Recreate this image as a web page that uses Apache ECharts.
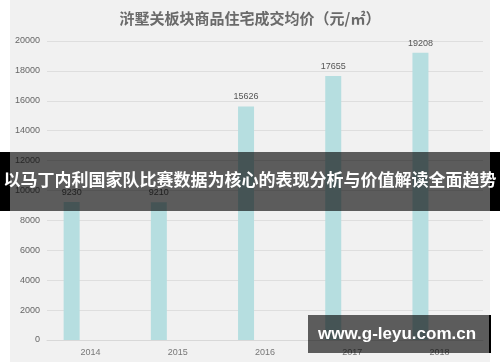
<!DOCTYPE html>
<html><head><meta charset="utf-8">
<script src="https://cdn.jsdelivr.net/npm/echarts@6/dist/echarts.min.js"></script>
<style>
html,body{margin:0;padding:0;background:#fff;}
#c{width:500px;height:362px;background:linear-gradient(to right,#fff 0,#fff 10px,#f1f1f1 10px,#f1f1f1 490px,#fff 490px);}
</style></head><body>
<div id="c"></div>
<script>
const titleText = '浒墅关板块商品住宅成交均价（元/㎡）';
const categories = ['2014', '2015', '2016', '2017', '2018'];
const avgPrice = [9230, 9210, 15626, 17655, 19208];
const emptySeries = ['-', '-', '-', '-', '-'];
const yMin = 0, yMax = 20000, yStep = 2000;
const bannerText = '以马丁内利国家队比赛数据为核心的表现分析与价值解读全面趋势';
const watermarkText = 'www.g-leyu.com.cn';

const chart = echarts.init(document.getElementById('c'), null, {renderer: 'canvas'});
chart.setOption({
  backgroundColor: 'transparent',
  animation: false,
  title: {
    text: titleText, left: 'center', top: 6,
    textStyle: {fontFamily: 'Noto Sans CJK SC', fontSize: 15, fontWeight: 'bold', color: '#6a6a6a'}
  },
  grid: {left: 47, right: 17, top: 41, bottom: 22, containLabel: false},
  xAxis: {
    type: 'category', data: categories,
    axisLine: {show: true, lineStyle: {color: '#d8d8d8'}},
    axisTick: {show: false},
    axisLabel: {color: '#777', fontSize: 9, fontFamily: 'Arial, Liberation Sans', margin: 8}
  },
  yAxis: {
    type: 'value', min: yMin, max: yMax, interval: yStep,
    axisLine: {show: false}, axisTick: {show: false},
    axisLabel: {color: '#666', fontSize: 9, fontFamily: 'Arial, Liberation Sans', margin: 7,
                formatter: v => String(v)},
    splitLine: {lineStyle: {color: '#dedede'}}
  },
  series: [
    {type: 'bar', data: avgPrice, barWidth: 16, barGap: '137%',
     itemStyle: {color: '#b6dee0'},
     label: {show: true, position: 'top', distance: 5, color: '#555', fontSize: 9, fontFamily: 'Arial, Liberation Sans'}},
    {type: 'bar', data: emptySeries, barWidth: 16, itemStyle: {color: '#b6dee0'}}
  ],
  graphic: [
    {type: 'rect', z: 100, shape: {x: 0, y: 152, width: 10, height: 59}, style: {fill: '#000'}},
    {type: 'rect', z: 100, shape: {x: 490, y: 152, width: 10, height: 59}, style: {fill: '#000'}},
    {type: 'rect', z: 101, shape: {x: 10, y: 152, width: 480, height: 59}, style: {fill: 'rgba(0,0,0,0.62)'}},
    {type: 'text', z: 102, left: 'center', top: 171,
     style: {text: bannerText, fill: '#fff', font: 'bold 17px "Noto Sans CJK SC"'}},
    {type: 'rect', z: 100, shape: {x: 489, y: 315, width: 2, height: 38}, style: {fill: '#000'}},
    {type: 'rect', z: 101, shape: {x: 308, y: 315, width: 181, height: 38}, style: {fill: 'rgba(0,0,0,0.62)'}},
    {type: 'text', z: 102, left: 318, top: 326,
     style: {text: watermarkText, fill: '#fff', font: 'bold 17px "Liberation Sans"'}}
  ]
});
</script></body></html>
